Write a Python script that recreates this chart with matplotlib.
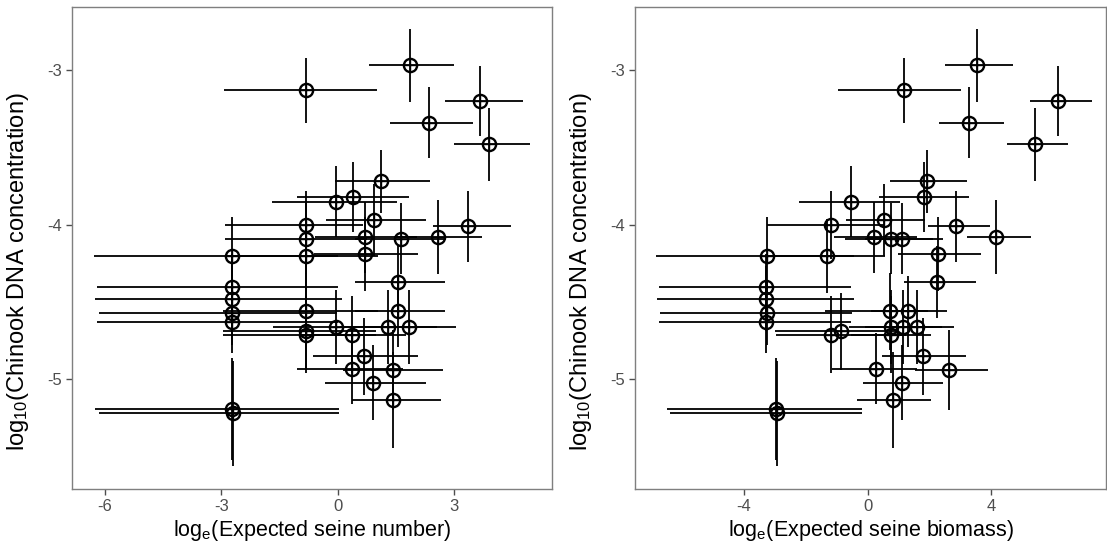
import matplotlib.pyplot as plt
import numpy as np

plt.rcParams['font.family'] = ['Liberation Sans', 'DejaVu Sans']
plt.rcParams['mathtext.default'] = 'regular'

# log10 DNA concentration with interval bounds
conc = [-2.97, -3.13, -3.20, -3.34, -3.48, -3.72, -3.82, -3.85, -3.97, -4.00,
        -4.01, -4.08, -4.08, -4.09, -4.09, -4.20, -4.20, -4.19, -4.37, -4.40,
        -4.48, -4.57, -4.63, -4.56, -4.56, -4.69, -4.71, -4.66, -4.71, -4.66,
        -4.66, -4.85, -4.93, -4.94, -5.02, -5.13, -5.19, -5.22]
conc_err = [0.235, 0.21, 0.225, 0.23, 0.235, 0.205, 0.225, 0.23, 0.235, 0.22,
            0.23, 0.24, 0.23, 0.23, 0.23, 0.25, 0.24, 0.24, 0.23, 0.21,
            0.21, 0.21, 0.20, 0.25, 0.23, 0.25, 0.25, 0.24, 0.25, 0.24,
            0.24, 0.25, 0.23, 0.26, 0.24, 0.31, 0.33, 0.34]

# loge expected seine number
num = [1.86, -0.82, 3.67, 2.35, 3.90, 1.12, 0.39, -0.05, 0.93, -0.81,
       3.37, 2.59, 0.70, 1.64, -0.81, -2.72, -0.81, 0.70, 1.55, -2.72,
       -2.72, -2.72, -2.72, -0.81, 1.55, -0.82, -0.82, -0.04, 0.38, 1.30,
       1.85, 0.69, 0.38, 1.42, 0.92, 1.43, -2.73, -2.70]
num_lo = [0.82, -2.93, 2.76, 1.36, 3.00, -0.07, -1.06, -1.70, -0.30, -2.90,
          2.45, 1.45, -0.59, 0.45, -2.90, -6.28, -2.90, -0.60, 0.45, -6.20,
          -6.26, -6.15, -6.20, -2.95, 0.45, -2.95, -2.95, -1.66, -1.00, 0.05,
          0.66, -0.63, -1.04, 0.13, -0.33, 0.36, -6.25, -6.16]
num_hi = [3.00, 1.02, 4.77, 3.48, 4.97, 2.38, 1.85, 1.54, 2.28, 0.65,
          4.46, 3.73, 2.04, 2.80, 0.75, 0.00, 1.05, 2.08, 2.78, 0.00,
          0.10, -0.02, 0.00, 1.05, 2.78, 1.00, 1.00, 1.55, 1.75, 2.55,
          3.04, 2.08, 1.69, 2.71, 2.27, 2.66, 0.04, 0.04]

# loge expected seine biomass
bio = [3.54, 1.17, 6.17, 3.28, 5.41, 1.93, 1.81, -0.55, 0.53, -1.19,
       2.86, 4.15, 0.21, 1.12, 0.75, -3.25, -1.33, 2.27, 2.25, -3.29,
       -3.29, -3.27, -3.29, 0.72, 1.29, -0.86, -1.20, 0.75, 0.75, 1.15,
       1.59, 1.80, 0.26, 2.64, 1.12, 0.82, -2.97, -2.95]
bio_lo = [2.50, -0.95, 5.25, 2.31, 4.52, 0.72, 0.38, -2.21, -0.70, -3.25,
          1.96, 3.20, -1.09, -0.10, -0.75, -6.85, -3.30, 0.99, 1.17, -6.75,
          -6.83, -6.72, -6.75, -1.38, 0.10, -3.00, -2.97, -0.60, -0.55, -0.10,
          0.40, 0.45, -1.17, 1.53, -0.14, -0.35, -6.50, -6.40]
bio_hi = [4.69, 3.01, 7.27, 4.41, 6.49, 3.20, 3.29, 1.05, 1.85, 0.56,
          3.96, 5.27, 1.59, 2.45, 2.10, -0.45, 0.56, 3.66, 3.50, -0.55,
          -0.43, -0.50, -0.54, 1.95, 2.56, 0.95, 1.25, 2.10, 2.05, 2.40,
          2.80, 3.18, 1.59, 3.90, 2.45, 2.06, -0.19, -0.19]

fig = plt.figure(figsize=(11.07, 5.5), dpi=100)
W, H = 1107, 550
ax1 = fig.add_axes([72 / W, (H - 489) / H, (551.7 - 72) / W, 482 / H])
ax2 = fig.add_axes([635 / W, (H - 489) / H, (1106 - 635) / W, 482 / H])

y = np.array(conc)
yerr = np.array(conc_err)

panels = [
    (ax1, num, num_lo, num_hi, r'log$_e$(Expected seine number)', [-6, -3, 0, 3], (-6.85, 5.52)),
    (ax2, bio, bio_lo, bio_hi, r'log$_e$(Expected seine biomass)', [-4, 0, 4], (-7.53, 7.71)),
]

for ax, xs, lo, hi, xlabel, xticks, xlim in panels:
    x = np.array(xs)
    xerr = np.vstack([x - np.array(lo), np.array(hi) - x])
    ax.errorbar(x, y, xerr=xerr, yerr=yerr, fmt='none', ecolor='black',
                elinewidth=1.3, capsize=0)
    ax.plot(x, y, 'o', mfc='none', mec='black', ms=9.5, mew=1.7)
    ax.plot(x, y, '+', color='black', ms=9.5, mew=1.0)
    ax.set_xlim(*xlim)
    ax.set_ylim(-5.708, -2.593)
    ax.set_xticks(xticks)
    ax.set_xticklabels([str(t) for t in xticks])
    ax.set_yticks([-3, -4, -5])
    ax.set_yticklabels(['-3', '-4', '-5'])
    ax.set_xlabel(xlabel, fontsize=15.5, color='black', labelpad=3)
    ax.set_ylabel(r'log$_{10}$(Chinook DNA concentration)', fontsize=17,
                  color='black')
    ax.yaxis.set_label_coords(-0.085 if ax is ax1 else -0.087, 0.45)
    ax.tick_params(colors='#4d4d4d', labelsize=12, length=4, width=1,
                   direction='out', pad=3)
    for s in ax.spines.values():
        s.set_color('#7f7f7f')
        s.set_linewidth(1)

fig.savefig('out.png', dpi=100)
